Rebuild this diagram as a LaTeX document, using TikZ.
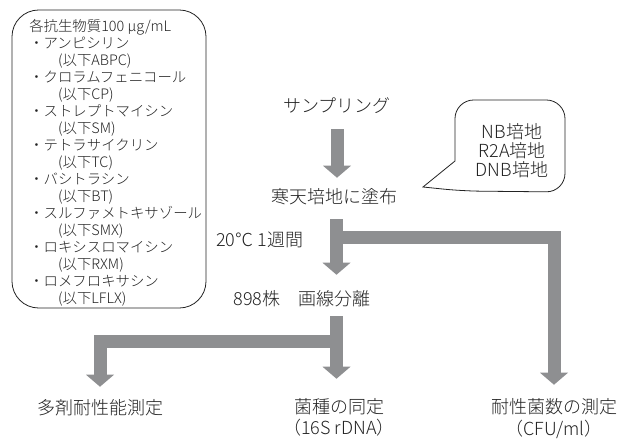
\documentclass[tikz,border=0pt]{standalone}
\usepackage{fontspec}
\setmainfont{Noto Sans CJK JP Light}
\usetikzlibrary{arrows.meta,calc}
\definecolor{arrowgray}{RGB}{142,143,145}
\definecolor{ink}{RGB}{35,35,35}
\begin{document}
\begin{tikzpicture}[x=0.75pt,y=-0.75pt,
  lbl/.style={inner sep=0pt, text height=10.8pt, text depth=2.7pt, font=\fontsize{13.5}{16}\selectfont, text=ink},
  small/.style={inner sep=0pt, anchor=west, text height=8.6pt, text depth=2.2pt, font=\fontsize{10.8}{13}\selectfont, text=ink},
  flow/.style={draw=arrowgray, line width=9.75pt, line join=miter, -{Triangle[width=21pt,length=9pt,line width=0pt]}},
  frame/.style={draw=ink, line width=0.6pt}]
\fill[white] (0,0) rectangle (632,439);
\useasboundingbox (0,0) rectangle (632,439);

% antibiotic box
\draw[frame, rounded corners=20pt] (12,10) rectangle (206,308);
\foreach \t [count=\i from 0] in {
  {各抗生物質100 µg/mL},
  {・アンピシリン},
  {\hspace*{2em}(以下ABPC)},
  {・クロラムフェニコール},
  {\hspace*{2em}(以下CP)},
  {・ストレプトマイシン},
  {\hspace*{2em}(以下SM)},
  {・テトラサイクリン},
  {\hspace*{2em}(以下TC)},
  {・バシトラシン},
  {\hspace*{2em}(以下BT)},
  {・スルファメトキサゾール},
  {\hspace*{2em}(以下SMX)},
  {・ロキシスロマイシン},
  {\hspace*{2em}(以下RXM)},
  {・ロメフロキサシン},
  {\hspace*{2em}(以下LFLX)}}
  \node[small] (abx\i) at (29,{27+17*\i}) {\t};

% media bubble
\draw[frame] (423,187) -- (455,161) -- (455,150) [rounded corners=14pt] -- (455,100) -- (565,100) -- (565,192) -- (462,191) [sharp corners] -- cycle;
\node[align=center, inner sep=0pt, font=\fontsize{13.5}{14.25}\selectfont, text=ink] (media) at (512,151) {NB培地\\R2A培地\\DNB培地};

% flow nodes
\coordinate (col) at (336.5,0);
\node[lbl] (samp) at (337,107) {サンプリング};
\node[lbl] (kanten) at (334,198) {寒天培地に塗布};
\node[lbl, anchor=west] (temp) at (216,241) {20℃ 1週間};
\node[lbl] (iso) at (302,300) {898株　画線分離};
\node[lbl] (multi) at (100,409) {多剤耐性能測定};
\node[lbl] (ident) at (339,408) {菌種の同定};
\node[lbl] (ident2) at (339,429) {（16S rDNA）};
\node[lbl] (count) at (554,408) {耐性菌数の測定};
\node[lbl] (count2) at (554,430) {（CFU/ml）};

% arrows
\draw[flow] ($(samp.south)+(0,13)$) -- ($(samp.south |- kanten.north)+(0,-11)$);
\draw[flow] ($(kanten.south -| col)+(0,12)$) -- ($(iso.north -| col)+(0,-16)$);
\coordinate (j1) at (336.5,237.5);
\draw[flow] (j1) -| ($(count.north)+(0,-14)$);
\draw[flow] ($(iso.south -| col)+(0,7)$) -- ($(ident.north -| col)+(0,-20)$);
\coordinate (j2) at (336.5,341);
\draw[flow] (j2) -| ($(multi.north)+(0,-13)$);
\end{tikzpicture}
\end{document}
